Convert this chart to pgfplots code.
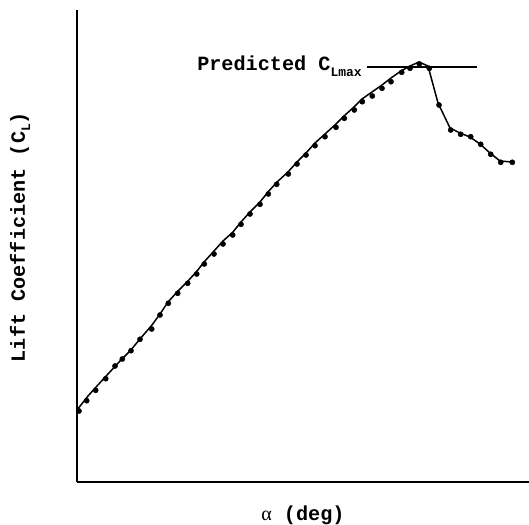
\documentclass[border=0pt]{standalone}
\usepackage{fontspec}
\setmainfont{Liberation Serif}
\setmonofont{Liberation Mono}
\usepackage{pgfplots}
\pgfplotsset{compat=1.18}

\newcommand{\lbl}{\fontsize{20.2}{22}\selectfont\ttfamily\bfseries}
\newcommand{\sub}[1]{\raisebox{-0.5ex}{\fontsize{13}{13}\selectfont #1}}

\begin{document}
\begin{tikzpicture}
\begin{axis}[scale only axis, width=452pt, height=472pt,
  xmin=0, xmax=452, ymin=0, ymax=472,
  axis x line*=bottom, axis y line*=left,
  axis line style={line width=1.4pt},
  xtick=\empty, ytick=\empty, clip=false]
% predicted curve
\addplot[black, line width=1.5pt] coordinates {
 (0,72) (11,86) (20,96) (31,108) (43,121) (53,131) (63,143) (75,157)
 (83,168) (91,180) (101,191) (111,201) (120,211) (128,221) (137,231)
 (146,241) (156,250) (164,260) (173,270) (183,280) (191,290) (200,300)
 (211,310) (220,320) (229,329) (238,339) (248,348) (259,358) (267,366)
 (277,375) (285,383) (295,390) (305,397) (314,404) (324,411) (333,416)
 (342,420) (351,416) (361,379) (373,354) (383,349) (393,345) (403,338)
 (413,329) (423,321) (435,320)};
% measured points
\addplot[only marks, mark=*, mark size=2.6pt, black] coordinates {
 (2,71) (9.7,81.3) (18.7,91.7) (28.7,103.3) (38,116) (45.3,123) (54,131.3)
 (63,142.7) (74.7,153) (83,167) (91.3,178.7) (100.7,188.7) (110.7,198.7)
 (119.7,208) (127.3,218) (137,228) (146,238) (155.7,247) (164,257.7)
 (173,268) (183,277.7) (191.3,288) (199.7,297.7) (211.3,308) (220,318)
 (229,327) (238,336.3) (248,345.3) (259,354.7) (267.3,363.7) (277.3,372)
 (285.3,380.3) (295.3,386) (305,393.7) (314,400.3) (324.7,409.7)
 (333,413.7) (342.3,418) (352.3,413.7) (362,377) (373.7,352) (383.7,347.7)
 (393.7,345.3) (403.7,337.7) (413.7,327.7) (423.7,319.7) (435.3,319.7)};
% predicted CLmax
\addplot[black, line width=1.3pt] coordinates {(290,415) (400,415)};
\node[anchor=base east, inner sep=0pt] at (axis cs:285,411)
  {\lbl Predicted C\sub{Lmax}};
\node[rotate=90, inner sep=0pt] at (axis cs:-57,245)
  {\lbl Lift Coefficient (C\sub{L})};
\node[inner sep=0pt] at (axis cs:226,-33)
  {\lbl{\rmfamily\mdseries\fontsize{20}{22}\selectfont α} (deg)};
\end{axis}
\pgfresetboundingbox
\path[use as bounding box] (-77pt,-42pt) rectangle (452pt,482pt);
\end{tikzpicture}
\end{document}
